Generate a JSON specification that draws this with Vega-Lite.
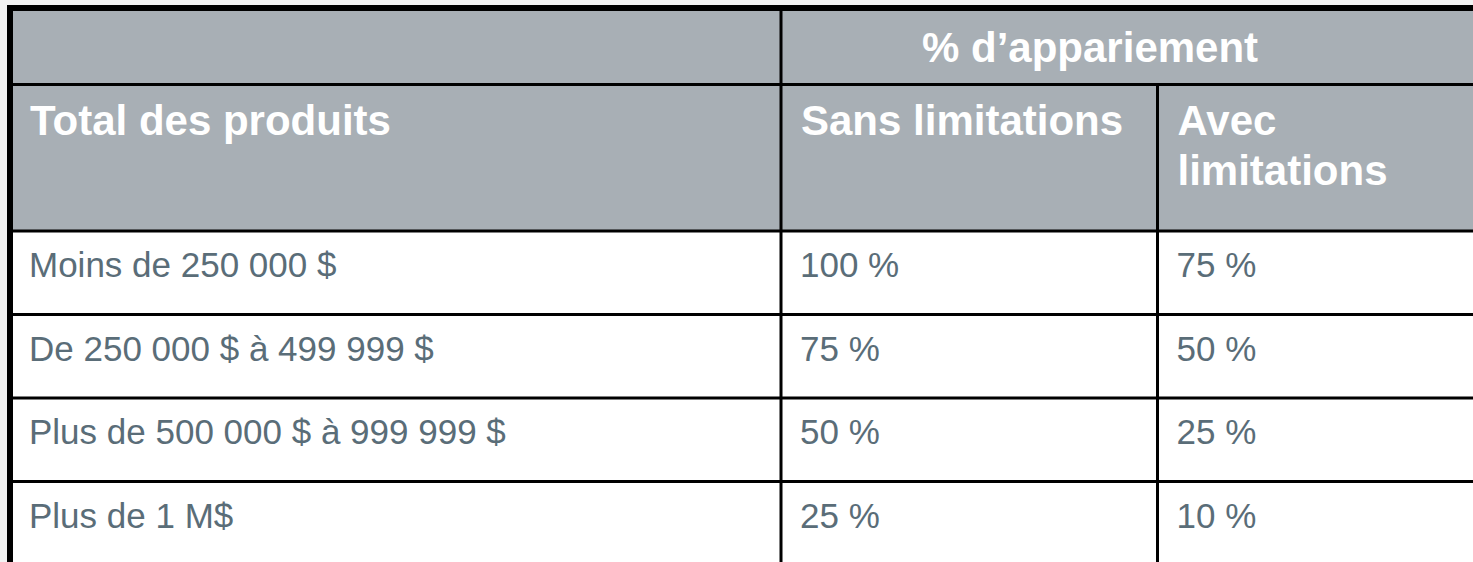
{
  "$schema": "https://vega.github.io/schema/vega-lite/v6.json",
  "width": 1473,
  "height": 562,
  "autosize": {"type": "none"},
  "padding": 0,
  "background": "#f3f3f3",
  "config": {"view": {"stroke": null}, "font": "Liberation Sans"},
  "datasets": {
    "fills": [
      {"part": "header", "c0": 0, "c1": 3, "r0": 0, "r1": 2},
      {"part": "body", "c0": 0, "c1": 3, "r0": 2, "r1": 6}
    ],
    "hlines": [
      {"r": 1, "c0": 0, "c1": 3},
      {"r": 2, "c0": 0, "c1": 3},
      {"r": 3, "c0": 0, "c1": 3},
      {"r": 4, "c0": 0, "c1": 3},
      {"r": 5, "c0": 0, "c1": 3}
    ],
    "vlines": [
      {"c": 1, "r0": 0, "r1": 6},
      {"c": 2, "r0": 1, "r1": 6}
    ],
    "borders": [
      {"side": "top", "c0": 0, "c1": 3, "r0": 0, "r1": 0},
      {"side": "left", "c0": 0, "c1": 0, "r0": 0, "r1": 6}
    ],
    "cells": [
      {"label": "% d’appariement", "col": 1, "row": 0, "kind": "title"},
      {"label": "Total des produits", "col": 0, "row": 1, "kind": "head"},
      {"label": "Sans limitations", "col": 1, "row": 1, "kind": "head"},
      {"label": "Avec\nlimitations", "col": 2, "row": 1, "kind": "head"},
      {"label": "Moins de 250 000 $", "col": 0, "row": 2, "kind": "body"},
      {"label": "100 %", "col": 1, "row": 2, "kind": "body"},
      {"label": "75 %", "col": 2, "row": 2, "kind": "body"},
      {"label": "De 250 000 $ à 499 999 $", "col": 0, "row": 3, "kind": "body"},
      {"label": "75 %", "col": 1, "row": 3, "kind": "body"},
      {"label": "50 %", "col": 2, "row": 3, "kind": "body"},
      {"label": "Plus de 500 000 $ à 999 999 $", "col": 0, "row": 4, "kind": "body"},
      {"label": "50 %", "col": 1, "row": 4, "kind": "body"},
      {"label": "25 %", "col": 2, "row": 4, "kind": "body"},
      {"label": "Plus de 1 M$", "col": 0, "row": 5, "kind": "body"},
      {"label": "25 %", "col": 1, "row": 5, "kind": "body"},
      {"label": "10 %", "col": 2, "row": 5, "kind": "body"}
    ]
  },
  "layer": [
    {
      "data": {"name": "fills"},
      "mark": {"type": "rect"},
      "encoding": {
        "x": {"field": "c0", "type": "quantitative", "axis": null, "scale": {"type": "linear", "domain": [0, 1, 2, 3], "range": [10, 781, 1157.5, 1480], "zero": false, "nice": false}},
        "x2": {"field": "c1"},
        "y": {"field": "r0", "type": "quantitative", "axis": null, "scale": {"type": "linear", "domain": [0, 1, 2, 3, 4, 5, 6], "range": [8, 84.5, 231, 314.5, 398, 481.5, 565], "zero": false, "nice": false}},
        "y2": {"field": "r1"},
        "color": {"field": "part", "type": "nominal", "legend": null, "scale": {"domain": ["header", "body"], "range": ["#a8afb5", "#ffffff"]}}
      }
    },
    {
      "data": {"name": "hlines"},
      "mark": {"type": "rule", "color": "#000000", "strokeWidth": 3},
      "encoding": {
        "x": {"field": "c0", "type": "quantitative", "axis": null},
        "x2": {"field": "c1"},
        "y": {"field": "r", "type": "quantitative", "axis": null}
      }
    },
    {
      "data": {"name": "vlines"},
      "mark": {"type": "rule", "color": "#000000", "strokeWidth": 3},
      "encoding": {
        "x": {"field": "c", "type": "quantitative", "axis": null},
        "y": {"field": "r0", "type": "quantitative", "axis": null},
        "y2": {"field": "r1"}
      }
    },
    {
      "data": {"name": "borders"},
      "mark": {"type": "rule", "color": "#000000", "strokeWidth": 6, "strokeCap": "square"},
      "encoding": {
        "x": {"field": "c0", "type": "quantitative", "axis": null},
        "x2": {"field": "c1"},
        "y": {"field": "r0", "type": "quantitative", "axis": null},
        "y2": {"field": "r1"}
      }
    },
    {
      "data": {"name": "cells"},
      "transform": [{"filter": "datum.kind === 'title'"}],
      "mark": {"type": "text", "align": "left", "baseline": "alphabetic", "dx": 141, "dy": 54, "fontSize": 42, "fontWeight": "bold", "color": "#ffffff"},
      "encoding": {
        "x": {"field": "col", "type": "quantitative", "axis": null},
        "y": {"field": "row", "type": "quantitative", "axis": null},
        "text": {"field": "label"}
      }
    },
    {
      "data": {"name": "cells"},
      "transform": [{"filter": "datum.kind === 'head'"}],
      "mark": {"type": "text", "align": "left", "baseline": "alphabetic", "dx": 20, "dy": 50.5, "fontSize": 42, "fontWeight": "bold", "color": "#ffffff", "lineBreak": "\n", "lineHeight": 50},
      "encoding": {
        "x": {"field": "col", "type": "quantitative", "axis": null},
        "y": {"field": "row", "type": "quantitative", "axis": null},
        "text": {"field": "label"}
      }
    },
    {
      "data": {"name": "cells"},
      "transform": [{"filter": "datum.kind === 'body'"}],
      "mark": {"type": "text", "align": "left", "baseline": "alphabetic", "dx": 19, "dy": 46, "fontSize": 35, "color": "#5a6d78"},
      "encoding": {
        "x": {"field": "col", "type": "quantitative", "axis": null},
        "y": {"field": "row", "type": "quantitative", "axis": null},
        "text": {"field": "label"}
      }
    }
  ]
}
